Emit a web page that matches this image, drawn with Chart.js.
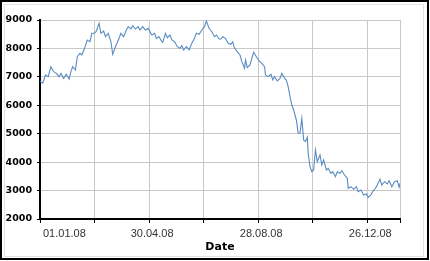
<!DOCTYPE html>
<html>
<head>
<meta charset="utf-8">
<script src="https://cdn.jsdelivr.net/npm/chart.js@4.4.1/dist/chart.umd.min.js"></script>
<style>
html,body{margin:0;padding:0;background:#fff;}
#wrap{width:430px;height:261px;position:relative;}
</style>
</head>
<body>
<div id="wrap"><canvas id="c" width="430" height="261"></canvas></div>
<script>
// Day offsets from 01.01.08
const days = [0,3,6,9,12,15,18,21,23,26,29,32,34,36,39,41,44,46,49,52,55,57,60,62,65,67,70,72,75,78,80,83,87,89,92,95,97,100,102,105,108,110,113,116,119,121,123,126,128,131,134,135,138,140,143,145,148,151,154,156,158,161,164,167,170,172,175,178,181,183,186,189,192,194,197,199,201,204,207,210,212,214,217,220,222,225,226,228,231,233,235,238,241,244,247,248,251,254,256,258,261,264,266,269,271,273,275,277,279,282,284,286,288,290,292,294,295,297,299,301,303,305,308,310,312,315,317,320,322,325,327,330,332,335,338,339,342,345,348,350,353,356,359,361,364,366,369,371,374,376,379,382,384,387,390,393,395,396];
const values = [6850,6780,7065,7006,7358,7182,7124,7006,7124,6948,7089,6925,7182,7358,7241,7710,7827,7769,8004,8297,8237,8532,8532,8613,8884,8532,8613,8414,8532,8237,7793,8061,8356,8532,8414,8648,8765,8683,8800,8683,8765,8648,8765,8648,8707,8589,8472,8532,8356,8414,8237,8215,8532,8378,8472,8297,8237,8061,8004,8096,7945,8061,7945,8180,8356,8532,8497,8648,8765,8965,8707,8589,8414,8472,8332,8332,8414,8356,8180,8145,8237,8004,7886,7769,7534,7300,7593,7322,7417,7652,7863,7710,7558,7477,7358,7065,7006,7089,6890,7006,6855,6948,7124,6948,6890,6655,6302,6010,5834,5483,5015,5015,5542,4779,4720,4874,4311,3840,3664,3724,4427,4016,4251,3899,4075,3724,3783,3606,3664,3488,3664,3606,3699,3548,3431,3080,3137,3044,3137,2961,3020,2845,2880,2763,2845,2961,3080,3196,3396,3196,3313,3231,3348,3137,3313,3348,3114,3255];
const tickDays = [0,60,120,180,240,300,360,396];
const tickLabels = {0:'01.01.08',120:'30.04.08',240:'28.08.08',360:'26.12.08'};
const yTicks = [2000,3000,4000,5000,6000,7000,8000,9000];

const framePlugin = {
  id:'frame',
  beforeDraw(chart){
    const ctx = chart.ctx;
    ctx.save();
    ctx.fillStyle='#fff';
    ctx.fillRect(0,0,chart.width,chart.height);
    ctx.restore();
  },
  afterDraw(chart){
    const ctx = chart.ctx;
    ctx.save();
    ctx.strokeStyle='#e2e2e2';
    ctx.lineWidth=1;
    ctx.strokeRect(4.5,4.5,419,252);
    ctx.strokeStyle='#000';
    ctx.lineWidth=2;
    ctx.strokeRect(1,1,427,258);
    ctx.restore();
  }
};

new Chart(document.getElementById('c'), {
  type:'line',
  data:{
    datasets:[{
      data: days.map((d,i)=>({x:d,y:values[i]})),
      borderColor:'#5a8cc2',
      borderWidth:1.1,
      pointRadius:0,
      tension:0,
      fill:false
    }]
  },
  options:{
    responsive:false,
    animation:false,
    events:[],
    layout:{padding:{top:20,right:30,left:0,bottom:0}},
    plugins:{legend:{display:false},tooltip:{enabled:false}},
    scales:{
      x:{
        type:'linear',
        min:0,max:396,
        afterBuildTicks(s){ s.ticks = tickDays.map(v=>({value:v})); },
        afterFit(s){ s.height = 42; },
        grid:{color:'#c8c8c8',lineWidth:1,drawTicks:true,tickLength:4,tickColor:'#000'},
        border:{color:'#000',width:2},
        ticks:{
          autoSkip:false,maxRotation:0,align:'inner',labelOffset:3,padding:4,
          color:'#333',
          font:{family:'Liberation Sans',size:11},
          callback:(v)=>tickLabels[v]||''
        },
        title:{display:true,text:'Date',color:'#000',font:{family:'DejaVu Sans',size:11,weight:'bold'},padding:{top:0,bottom:7}}
      },
      y:{
        min:2000,max:9000,
        afterBuildTicks(s){ s.ticks = yTicks.map(v=>({value:v})); },
        afterFit(s){ s.width = 40; },
        grid:{color:'#c8c8c8',lineWidth:1,drawTicks:true,tickLength:3,tickColor:'#000'},
        border:{color:'#000',width:2},
        ticks:{
          color:'#000',padding:5,
          font:{family:'DejaVu Sans',size:9.5,weight:'bold'},
          callback:(v)=>String(v)
        }
      }
    }
  },
  plugins:[framePlugin]
});
</script>
</body>
</html>
